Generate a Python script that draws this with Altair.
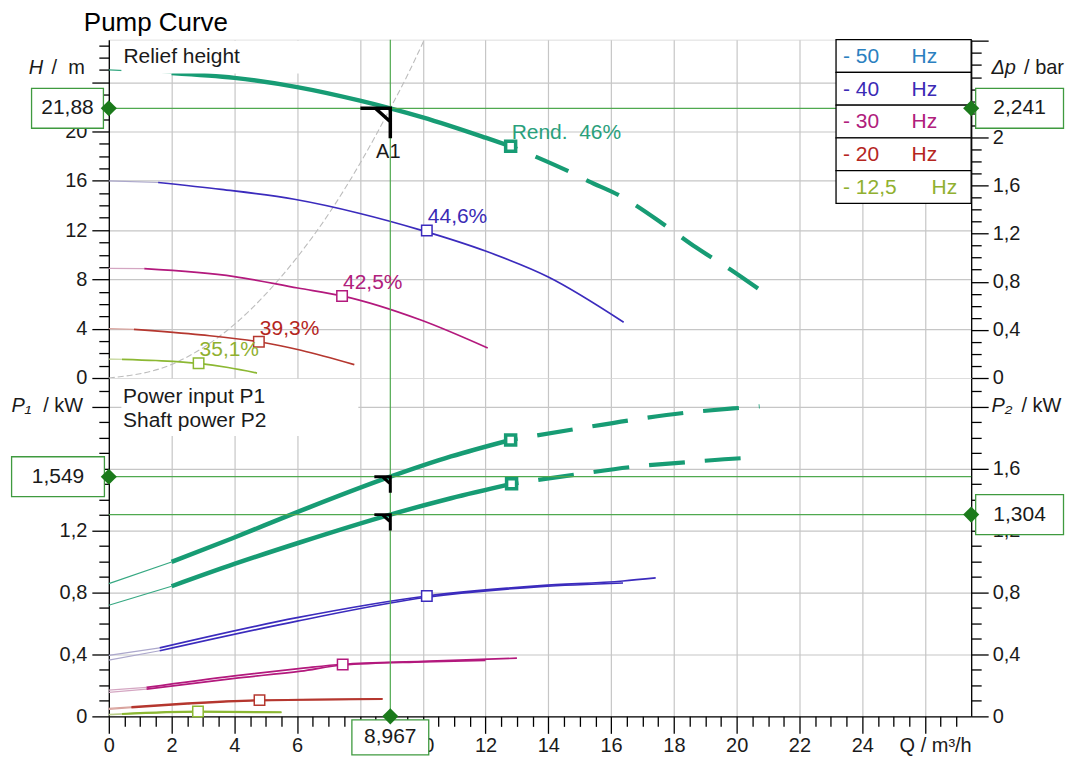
import altair as alt
import pandas as pd

FONT = "Liberation Sans"

# ---------------- values ----------------
FREQS = ["50", "40", "30", "20", "12.5"]
LEGEND_NUM = ["- 50", "- 40", "- 30", "- 20", "- 12,5"]
BEP_TEXT = ["Rend.\u00a0 46%", "44,6%", "42,5%", "39,3%", "35,1%"]

Q_MAX = 27.47       # m³/h at right frame
H_MAX = 27.45       # m at top frame
P_MAX = 2.187       # kW at top of power panel
BAR_PER_M = 0.10242 # 2,241 bar <-> 21,88 m

DUTY_Q = 8.967
DUTY_H = 21.88
DUTY_DP = 2.241
DUTY_P1 = 1.549
DUTY_P2 = 1.304

# system curve
SYS_Q = [0, 2, 4, 6, 7, 8, 8.967, 9.5, 10.05]
SYS_H = [0, 1.1, 4.35, 9.8, 13.3, 17.4, 21.88, 24.5, 27.45]

# head curves (first segment = thin part below minimum flow)
H50_Q = [0, 2, 4, 6, 8, 8.967, 10, 12, 12.8]
H50 = [25.0, 24.75, 24.35, 23.6, 22.5, 21.88, 21.15, 19.5, 18.8]
H50_EXT_Q = [12.8, 13.65, 14.71, 15.29, 16.3, 16.83, 17.6, 18.7, 19.8, 20.8]
H50_EXT = [18.8, 17.9, 16.69, 15.96, 14.76, 13.94, 12.6, 10.6, 8.8, 7.04]
H40_Q = [0, 1.57, 3.58, 5.91, 8, 9.94, 12, 14, 16.4]
H40 = [16.0, 15.86, 15.3, 14.5, 13.35, 12.0, 10.3, 8.2, 4.53]
H30_Q = [0, 1.13, 4, 6.02, 7.43, 9.94, 12.07]
H30 = [8.9, 8.87, 8.23, 7.3, 6.66, 4.7, 2.43]
H20_Q = [0, 0.8, 2.94, 4.78, 6.12, 7.82]
H20 = [4.0, 3.95, 3.5, 2.94, 2.25, 1.08]
H12_Q = [0, 0.42, 1.5, 2.86, 3.8, 4.72]
H12 = [1.54, 1.52, 1.42, 1.19, 0.85, 0.4]

BEP_H_Q = [12.8, 10.13, 7.43, 4.78, 2.86]
BEP_H = [18.8, 11.97, 6.66, 2.94, 1.19]

# power curves P1 (input) and P2 (shaft)
P1_50_Q = [0, 2, 3.9, 6, 8.967, 10.9, 12.8]
P1_50 = [0.858, 0.998, 1.148, 1.32, 1.549, 1.68, 1.787]
P1_50_EXT_Q = [12.8, 14.81, 16.6, 18.4, 20.17, 20.73]
P1_50_EXT = [1.787, 1.855, 1.914, 1.963, 1.995, 2.004]
P2_50_Q = [0, 2, 4, 6.13, 8.967, 10.9, 12.83]
P2_50 = [0.718, 0.841, 0.985, 1.127, 1.304, 1.41, 1.503]
P2_50_EXT_Q = [12.83, 14.81, 16.6, 18.4, 20.17, 20.73]
P2_50_EXT = [1.503, 1.561, 1.611, 1.643, 1.669, 1.675]
P1_40_Q = [0, 1.62, 6, 10.13, 13.75, 16.38, 17.42]
P1_40 = [0.394, 0.443, 0.638, 0.778, 0.845, 0.875, 0.895]
P2_40_Q = [0, 1.62, 6, 10.13, 13.75, 16.38]
P2_40 = [0.363, 0.424, 0.616, 0.770, 0.838, 0.862]
P1_30_Q = [0, 1.2, 4, 6.12, 7.45, 10, 13.0]
P1_30 = [0.170, 0.187, 0.262, 0.31, 0.337, 0.356, 0.376]
P2_30_Q = [0, 1.2, 4, 6.12, 7.45, 10, 12.0]
P2_30 = [0.155, 0.176, 0.246, 0.292, 0.332, 0.352, 0.362]
P1_20_Q = [0, 0.72, 2.5, 4.8, 6.12, 8.72]
P1_20 = [0.052, 0.062, 0.085, 0.105, 0.108, 0.114]
P2_20_Q = [0, 0.72, 2.5, 4.8, 6.12, 8.72]
P2_20 = [0.045, 0.057, 0.080, 0.102, 0.106, 0.112]
P1_12_Q = [0, 0.42, 2.84, 5.5]
P1_12 = [0.013, 0.017, 0.032, 0.028]
P2_12_Q = [0, 0.42, 2.84, 5.5]
P2_12 = [0.010, 0.014, 0.029, 0.025]

BEP_P_Q = [12.8, 12.83, 10.13, 7.45, 4.8, 2.84]
BEP_P = [1.787, 1.503, 0.778, 0.335, 0.105, 0.031]
BEP_P_IDX = [0, 0, 1, 2, 3, 4]

# ---------------- styling ----------------
W, HT = 864, 339
GRID = "#c6c6c6"
OPG = "#4fa94f"
BOXG = "#3f9a3f"
DIAG = "#1b7a1b"
TXT = "#1a1a1a"
COL = ["#179c74", "#3b2bbd", "#b3197d", "#b5372f", "#8cb833"]
THIN_COL = ["#36a882", "#aca8cc", "#d4a6c2", "#d9a39d", "#bcd08c"]
LEG_COL = ["#2b80c0", "#3b2bb5", "#b0207c", "#b5261e", "#90b030"]
LAB_COL = ["#2aa07c", "#3b2bb5", "#b0207c", "#b5261e", "#90b030"]
A1_PATH = "M-1,0L0,0L0,1M-0.5,0L0,0.45"
LBL = 20


def box_path(hw):
    return f"M{-hw},-1L{hw},-1L{hw},1L{-hw},1Z"


def cond(test, a, b):
    return {"condition": {"test": test, "value": a}, "value": b}


sx = alt.Scale(domain=[0, Q_MAX], nice=False, zero=False)
sH = alt.Scale(domain=[0, H_MAX], nice=False, zero=False)
sBar = alt.Scale(domain=[0, H_MAX * BAR_PER_M], nice=False, zero=False)
sP = alt.Scale(domain=[0, P_MAX], nice=False, zero=False)

COMMON = dict(zindex=0, labelFont=FONT, labelColor=TXT,
              tickColor="black", tickWidth=1.3, domainColor="black", domainWidth=1.3,
              labelOverlap=False, labelFlush=False)

SHOW_X = "datum.value % 2 === 0 && datum.value <= 24"
SHOW_H = "datum.value % 4 === 0 && datum.value <= 20"
MAJ = "round(datum.value * 10) % 4 === 0"
SHOW_BAR = MAJ + " && datum.value < 2.2"
SHOW_P = MAJ + " && datum.value < 1.7"
COMMA = "replace(format(datum.value, '.1~f'), '.', ',')"

ax_x_top = alt.Axis(values=list(range(2, 27, 2)), labels=False, ticks=False, domain=False,
                    grid=True, gridColor=GRID, gridWidth=1.2, title=None, zindex=0)
ax_x_bot = alt.Axis(values=[i / 2 for i in range(55)], title="Q / m³/h", titleAnchor="end",
                    titleAlign="right", titleX=W, titleY=29, titleBaseline="middle",
                    titleFont=FONT, titleFontSize=LBL, titleFontWeight="normal", titleColor=TXT,
                    labelExpr=SHOW_X + " ? format(datum.value, 'd') : ''",
                    labelFontSize=cond(SHOW_X, LBL, 0),
                    tickSize=cond("datum.value % 2 === 0", 17, 10), labelPadding=2,
                    grid=True, gridOpacity=cond("datum.value % 2 === 0 && datum.value > 0", 1, 0),
                    gridColor=GRID, gridWidth=1.2, **COMMON)
ax_H = alt.Axis(orient="left", values=list(range(28)), title=None,
                tickSize=cond("datum.value % 4 === 0", 17, 10), labelPadding=5,
                labelExpr=SHOW_H + " ? format(datum.value, 'd') : ''",
                labelFontSize=cond(SHOW_H, LBL, 0),
                grid=True, gridOpacity=cond("datum.value % 4 === 0 && datum.value > 0", 1, 0),
                gridColor=GRID, gridWidth=1.2, **COMMON)
ax_bar = alt.Axis(orient="right", values=[round(i * 0.1, 1) for i in range(29)], title=None,
                  tickSize=cond(MAJ, 17, 10), labelPadding=4, grid=False,
                  labelExpr=SHOW_BAR + " ? " + COMMA + " : ''",
                  labelFontSize=cond(SHOW_BAR, LBL, 0), **COMMON)
ax_P1 = alt.Axis(orient="left", values=[round(i * 0.1, 1) for i in range(22)], title=None,
                 tickSize=cond(MAJ, 17, 10), labelPadding=5,
                 labelExpr=SHOW_P + " ? " + COMMA + " : ''",
                 labelFontSize=cond(SHOW_P, LBL, 0),
                 grid=True, gridOpacity=cond(MAJ + " && datum.value > 0", 1, 0),
                 gridColor=GRID, gridWidth=1.2, **COMMON)
ax_P2 = alt.Axis(orient="right", values=[round(i * 0.1, 1) for i in range(22)], title=None,
                 tickSize=cond(MAJ, 17, 10), labelPadding=4, grid=False,
                 labelExpr=SHOW_P + " ? " + COMMA + " : ''",
                 labelFontSize=cond(SHOW_P, LBL, 0), **COMMON)


def xq(top):
    return alt.X("Q:Q", scale=sx, axis=ax_x_top if top else ax_x_bot)


def yv(scale, axis):
    return alt.Y("V:Q", scale=scale, axis=axis)


def line_layer(qs, vs, top, scale, axis, color, width, dash=None, offset=0, clip=False):
    kw = dict(color=color, strokeWidth=width, strokeCap="butt", interpolate="monotone")
    if dash:
        kw["strokeDash"] = dash
        kw["strokeDashOffset"] = offset
    if clip:
        kw["clip"] = True
    return alt.Chart(pd.DataFrame({"Q": qs, "V": vs})).mark_line(**kw).encode(
        x=xq(top), y=yv(scale, axis))


def txt(t, x, y, size=LBL, color=TXT, align="left", style="normal"):
    return alt.Chart(pd.DataFrame({"t": [t]})).mark_text(
        align=align, baseline="middle", fontSize=size, font=FONT, color=color, fontStyle=style
    ).encode(x=alt.value(x), y=alt.value(y), text="t:N")


def white_rect(x1, x2, y1, y2, stroke=None):
    kw = dict(fill="white", opacity=1)
    if stroke:
        kw.update(stroke=stroke, strokeWidth=1.3)
    return alt.Chart(pd.DataFrame({"a": [0]})).mark_rect(**kw).encode(
        x=alt.value(x1), x2=alt.value(x2), y=alt.value(y1), y2=alt.value(y2))


def value_box(df, xenc, yenc, hw, size=1600):
    b = alt.Chart(df).mark_point(shape=box_path(hw), size=size, filled=True, fill="white",
                                 stroke=BOXG, strokeWidth=1.3, opacity=1).encode(x=xenc, y=yenc)
    t = alt.Chart(df).mark_text(fontSize=21, font=FONT, color=TXT, baseline="middle").encode(
        x=xenc, y=yenc, text="t:N")
    return [b, t]


def diamond(df, xenc, yenc):
    return alt.Chart(df).mark_point(shape="diamond", size=260, filled=True, color=DIAG,
                                    opacity=1).encode(x=xenc, y=yenc)


# ================= upper panel (head) =================
H_CURVES = [(H50_Q, H50), (H40_Q, H40), (H30_Q, H30), (H20_Q, H20), (H12_Q, H12)]
UL = [line_layer(SYS_Q, SYS_H, True, sH, ax_H, "#bdbdbd", 1.1, dash=[6, 3], clip=True)]
for i, (qs, vs) in enumerate(H_CURVES):
    UL.append(line_layer(qs[:2], vs[:2], True, sH, ax_H, THIN_COL[i], 1.2))
for i, (qs, vs) in enumerate(H_CURVES):
    UL.append(line_layer(qs[1:], vs[1:], True, sH, ax_H, COL[i], 4.5 if i == 0 else 1.7))
UL.append(line_layer(H50_EXT_Q, H50_EXT, True, sH, ax_H, COL[0], 4.2, dash=[36, 20], offset=29))

duty_h = pd.DataFrame({"Q": [DUTY_Q], "V": [DUTY_H]})
UL.append(alt.Chart(duty_h).mark_rule(color=OPG, strokeWidth=1.2).encode(y=yv(sH, ax_H)))
UL.append(alt.Chart(duty_h).mark_rule(color=OPG, strokeWidth=1.2).encode(x=xq(True)))

for i in range(5):
    df = pd.DataFrame({"Q": [BEP_H_Q[i]], "V": [BEP_H[i]], "t": [BEP_TEXT[i]]})
    base = alt.Chart(df).encode(x=xq(True), y=yv(sH, ax_H))
    UL.append(base.mark_point(shape="square", size=100 if i == 0 else 110, filled=True,
                              fill="white", stroke=COL[i], strokeWidth=3.5 if i == 0 else 1.5,
                              opacity=1))
    UL.append(base.mark_text(align="left", baseline="middle", dx=1, dy=-13, fontSize=21,
                             font=FONT, color=LAB_COL[i]).encode(text="t:N"))

a1 = alt.Chart(duty_h.assign(t="A1")).encode(x=xq(True), y=yv(sH, ax_H))
UL.append(a1.mark_point(shape=A1_PATH, size=3600, filled=False, stroke="black",
                        strokeWidth=3.5, opacity=1))
UL.append(a1.mark_text(dx=-2, dy=44, fontSize=20, font=FONT, color=TXT, baseline="middle").encode(text="t:N"))

UL.append(white_rect(12.6, 245, 1, 34))
UL.append(txt("Relief height", 14.6, 17.5, size=21))

row_h = 32.8
for i in range(5):
    UL.append(white_rect(728.6, W, i * row_h, (i + 1) * row_h, stroke="black"))
    UL.append(txt(LEGEND_NUM[i], 735.6, i * row_h + row_h / 2 + 1, size=21, color=LEG_COL[i]))
    UL.append(txt("Hz", 804.3 if i < 4 else 824.3, i * row_h + row_h / 2 + 1, size=21,
                  color=LEG_COL[i]))

left_h = pd.DataFrame({"Q": [0.0], "V": [DUTY_H], "t": ["21,88"]})
UL += value_box(left_h, alt.value(-41.4), yv(sH, ax_H), 1.8)
UL.append(diamond(left_h, xq(True), yv(sH, ax_H)))
UL.append(txt("H", -65.7, 28.3, style="italic", align="right"))
UL.append(txt("/\u00a0\u00a0m", -24, 28.3, align="right"))

right_h = pd.DataFrame({"Q": [Q_MAX], "V": [DUTY_DP], "t": ["2,241"]})
UR = value_box(right_h, alt.value(912.5), yv(sBar, ax_bar), 2.2)
UR.append(diamond(right_h, xq(True), yv(sBar, ax_bar)))
UR.append(txt("\u0394p", 884.3, 28.3, style="italic"))
UR.append(txt("/ bar", 917.0, 28.3))

upper = alt.layer(alt.layer(*UL), alt.layer(*UR)).resolve_scale(y="independent").properties(
    width=W, height=HT)

# ================= lower panel (power) =================
P_CURVES = [
    (0, P1_50_Q, P1_50), (0, P2_50_Q, P2_50),
    (1, P1_40_Q, P1_40), (1, P2_40_Q, P2_40),
    (2, P1_30_Q, P1_30), (2, P2_30_Q, P2_30),
    (3, P1_20_Q, P1_20), (3, P2_20_Q, P2_20),
    (4, P1_12_Q, P1_12), (4, P2_12_Q, P2_12),
]
LL = []
for i, qs, vs in P_CURVES:
    LL.append(line_layer(qs[:2], vs[:2], False, sP, ax_P1, THIN_COL[i], 1.2))
for i, qs, vs in P_CURVES:
    LL.append(line_layer(qs[1:], vs[1:], False, sP, ax_P1, COL[i], 4.5 if i == 0 else 1.7))
LL.append(line_layer(P1_50_EXT_Q, P1_50_EXT, False, sP, ax_P1, COL[0], 4.2, dash=[36, 20], offset=29))
LL.append(line_layer(P2_50_EXT_Q, P2_50_EXT, False, sP, ax_P1, COL[0], 4.2, dash=[36, 20], offset=29))

duty_p = pd.DataFrame({"Q": [DUTY_Q, DUTY_Q], "V": [DUTY_P1, DUTY_P2]})
LL.append(alt.Chart(duty_p).mark_rule(color=OPG, strokeWidth=1.2).encode(y=yv(sP, ax_P1)))
LL.append(alt.Chart(duty_h).mark_rule(color=OPG, strokeWidth=1.2).encode(x=xq(False)))

for k in range(6):
    i = BEP_P_IDX[k]
    df = pd.DataFrame({"Q": [BEP_P_Q[k]], "V": [BEP_P[k]]})
    LL.append(alt.Chart(df).mark_point(shape="square", size=100 if i == 0 else 110, filled=True,
                                       fill="white", stroke=COL[i],
                                       strokeWidth=3.5 if i == 0 else 1.5, opacity=1).encode(
        x=xq(False), y=yv(sP, ax_P1)))

LL.append(alt.Chart(duty_p).mark_point(shape=A1_PATH, size=1024, filled=False, stroke="black",
                                       strokeWidth=3, opacity=1).encode(x=xq(False), y=yv(sP, ax_P1)))

LL.append(white_rect(12.6, 250, 1, 58))
LL.append(txt("Power input P1", 14.3, 19.3, size=21))
LL.append(txt("Shaft power P2", 14.3, 42.7, size=21))

left_p = pd.DataFrame({"Q": [0.0], "V": [DUTY_P1], "t": ["1,549"]})
LL += value_box(left_p, alt.value(-50.9), yv(sP, ax_P1), 2.325)
LL.append(diamond(left_p, xq(False), yv(sP, ax_P1)))

bottom_q = pd.DataFrame({"Q": [DUTY_Q], "V": [0.0], "t": ["8,967"]})
LL += value_box(bottom_q, xq(False), alt.value(HT + 21), 2.2, size=1225)
LL.append(diamond(bottom_q, xq(False), yv(sP, ax_P1)))
LL.append(txt("P\u2081", -97.4, 27.7, style="italic"))
LL.append(txt("/ kW", -25.7, 27.7, align="right"))

right_p = pd.DataFrame({"Q": [Q_MAX], "V": [DUTY_P2], "t": ["1,304"]})
LR = value_box(right_p, alt.value(912.5), yv(sP, ax_P2), 2.2)
LR.append(diamond(right_p, xq(False), yv(sP, ax_P2)))
LR.append(txt("P\u2082", 884.3, 28, style="italic"))
LR.append(txt("/ kW", 914.3, 28))

lower = alt.layer(alt.layer(*LL), alt.layer(*LR)).resolve_scale(y="independent").properties(
    width=W, height=HT)

chart = alt.vconcat(
    upper, lower, spacing=0, bounds="flush",
    title=alt.TitleParams(text="Pump Curve", anchor="start", frame="group", dx=-25, offset=3,
                          fontSize=26, font=FONT, fontWeight="normal", color="black"),
    padding={"left": 0, "right": 0, "top": 0, "bottom": 0},
).configure_view(stroke="black", strokeWidth=1.3).configure(font=FONT)

chart.save("out.html", embed_options={"renderer": "svg", "actions": False})
